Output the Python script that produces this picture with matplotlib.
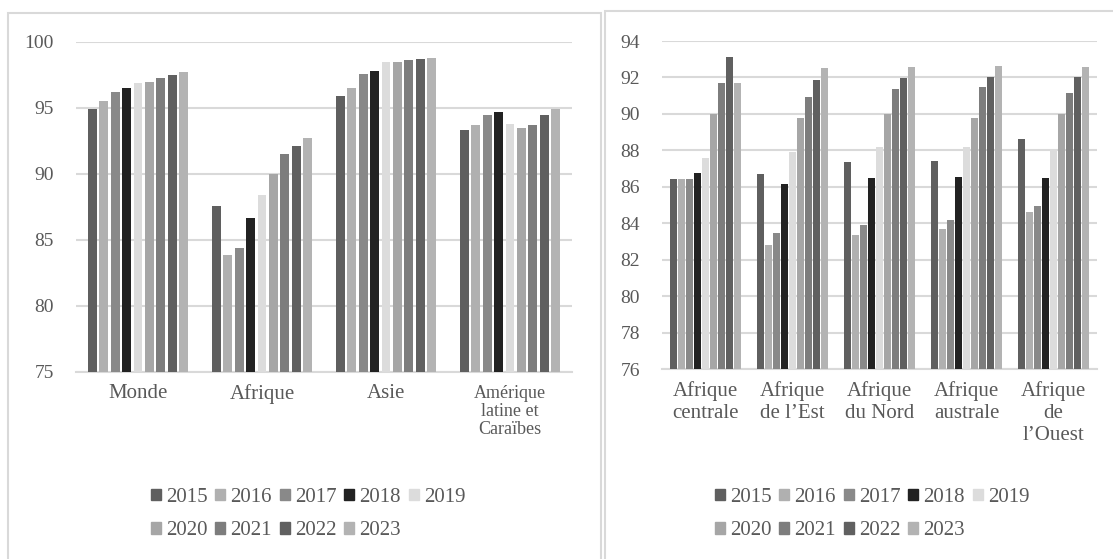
import matplotlib
matplotlib.use('Agg')
import matplotlib.pyplot as plt
import numpy as np
from matplotlib.patches import Rectangle, Patch

plt.rcParams['font.family'] = ['Liberation Serif', 'DejaVu Serif']

years = ['2015', '2016', '2017', '2018', '2019', '2020', '2021', '2022', '2023']
colors = ['#5f5f5f', '#b0b0b0', '#898989', '#222222', '#dcdcdc',
          '#a6a6a6', '#7d7d7d', '#606060', '#b3b3b3']

# left chart: world regions
regions = ['Monde', 'Afrique', 'Asie', 'Amérique\nlatine et\nCaraïbes']
monde = [94.9, 95.5, 96.2, 96.5, 96.9, 97.0, 97.3, 97.5, 97.7]
afrique = [87.6, 83.9, 84.4, 86.7, 88.4, 90.0, 91.5, 92.1, 92.75]
asie = [95.9, 96.5, 97.6, 97.8, 98.5, 98.5, 98.6, 98.7, 98.8]
amerique = [93.3, 93.7, 94.5, 94.7, 93.8, 93.5, 93.7, 94.5, 94.9]

# right chart: African sub-regions
subregions = ['Afrique\ncentrale', 'Afrique\nde l’Est', 'Afrique\ndu Nord',
              'Afrique\naustrale', 'Afrique\nde\nl’Ouest']
centrale = [86.4, 86.45, 86.45, 86.75, 87.6, 90.0, 91.7, 93.1, 91.7]
est = [86.7, 82.8, 83.45, 86.15, 87.9, 89.75, 90.95, 91.85, 92.5]
nord = [87.35, 83.35, 83.9, 86.5, 88.2, 90.0, 91.35, 91.95, 92.55]
australe = [87.4, 83.7, 84.2, 86.55, 88.2, 89.8, 91.45, 92.0, 92.65]
ouest = [88.6, 84.6, 84.95, 86.5, 88.1, 90.0, 91.15, 92.05, 92.55]

left_data = np.array([monde, afrique, asie, amerique])
right_data = np.array([centrale, est, nord, australe, ouest])

txt = '#595959'
grid = '#d9d9d9'

fig = plt.figure(figsize=(11.13, 5.59), dpi=100)

# panel frames
fig.patches.append(Rectangle((8 / 1113, -0.1), 593 / 1113, 1.1 - 13 / 559,
                             transform=fig.transFigure, fill=False,
                             edgecolor=grid, linewidth=1.5))
fig.patches.append(Rectangle((605 / 1113, -0.1), 0.6, 1.1 - 11 / 559,
                             transform=fig.transFigure, fill=False,
                             edgecolor=grid, linewidth=1.5))


def draw(ax, data, cats, ymin, ymax, step):
    n = len(years)
    group = 0.83
    slot = group / n
    x = np.arange(len(cats))
    for i in range(n):
        ax.bar(x - group / 2 + slot * (i + 0.5), data[:, i] - ymin, bottom=ymin,
               width=slot * 0.78, color=colors[i], zorder=3)
    ax.set_xlim(-0.5, len(cats) - 0.5)
    ax.set_ylim(ymin, ymax)
    ax.set_yticks(np.arange(ymin, ymax + 0.1, step))
    ax.yaxis.grid(True, color=grid, linewidth=1.5, zorder=0)
    ax.set_axisbelow(True)
    for s in ['top', 'right', 'left']:
        ax.spines[s].set_visible(False)
    ax.spines['bottom'].set_color(grid)
    ax.spines['bottom'].set_linewidth(1.5)
    ax.tick_params(length=0, colors=txt)
    ax.tick_params(axis='y', pad=16, labelsize=14)
    ax.tick_params(axis='x', pad=9, labelsize=15)
    ax.set_xticks(x)
    ax.set_xticklabels(cats, linespacing=1.2)


ax1 = fig.add_axes([76 / 1113, 1 - 372 / 559, 496 / 1113, 330 / 559])
draw(ax1, left_data, regions, 75, 100, 5)
ax1.get_xticklabels()[3].set_fontsize(13)
ax1.get_xticklabels()[3].set_linespacing(1.1)

ax2 = fig.add_axes([662 / 1113, 1 - 369 / 559, 435 / 1113, 328 / 559])
draw(ax2, right_data, subregions, 76, 94, 2)

handles = [Patch(color=c) for c in colors]
order = [0, 5, 1, 6, 2, 7, 3, 8, 4]
for cx in (308 / 1113, 872 / 1113):
    leg = fig.legend([handles[k] for k in order], [years[k] for k in order],
                     loc='center', bbox_to_anchor=(cx, 1 - 514 / 559),
                     ncol=5, frameon=False, fontsize=15,
                     handlelength=0.48, handleheight=0.48, handletextpad=0.24,
                     columnspacing=0.38, labelspacing=0.7, labelcolor=txt,
                     borderpad=0)

fig.savefig('out.png', dpi=100)
